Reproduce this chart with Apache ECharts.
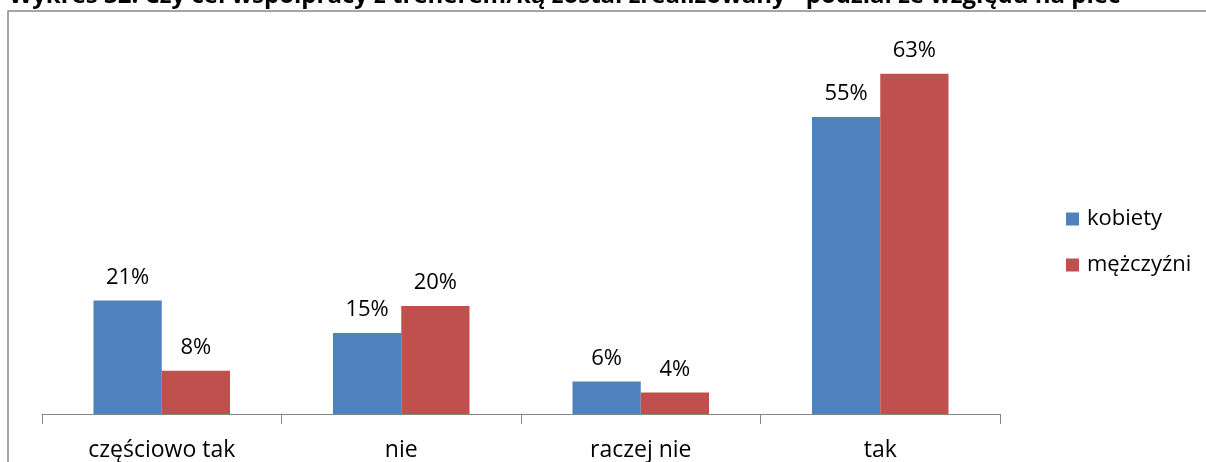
<!DOCTYPE html>
<html>
<head>
<meta charset="utf-8">
<script src="https://cdn.jsdelivr.net/npm/echarts@6/dist/echarts.min.js"></script>
<style>
html,body{margin:0;padding:0;background:#fff;}
#chart{width:1206px;height:462px;}
</style>
</head>
<body>
<div id="chart"></div>
<script>
const categories = ['częściowo tak', 'nie', 'raczej nie', 'tak'];
const kobiety = [21, 15, 6, 55];
const mezczyzni = [8, 20, 4, 63];
const seriesNames = ['kobiety', 'mężczyźni'];
const titleText = 'Wykres 32. Czy cel współpracy z trenerem/ką został zrealizowany - podział ze względu na płeć';

const FONT = '"Open Sans", "Noto Sans", sans-serif';
const chart = echarts.init(document.getElementById('chart'));

const labelOpt = {
  show: true,
  position: 'top',
  distance: 12,
  formatter: p => p.value + '%',
  color: '#000',
  fontSize: 22,
  fontFamily: FONT
};

chart.setOption({
  animation: false,
  title: {
    text: titleText,
    left: 4,
    top: -21,
    textStyle: { fontSize: 24, fontWeight: 'bold', color: '#000', fontFamily: FONT }
  },
  graphic: [{
    type: 'polyline',
    shape: { points: [[8, 470], [8, 11], [1210, 11]] },
    style: { stroke: '#888', lineWidth: 1.5, fill: null },
    silent: true
  }],
  legend: {
    orient: 'vertical',
    left: 1061,
    top: 203,
    itemGap: 24,
    itemWidth: 13,
    itemHeight: 13,
    icon: 'rect',
    textStyle: { fontSize: 22, color: '#000', fontFamily: FONT, padding: [0, 0, 0, 3] },
    data: seriesNames
  },
  grid: { left: 42, right: 206, top: 36, bottom: 47 },
  xAxis: {
    type: 'category',
    data: categories,
    axisLine: { lineStyle: { color: '#868686', width: 1 } },
    axisTick: { show: true, length: 10, lineStyle: { color: '#868686' } },
    axisLabel: { fontSize: 23, color: '#000', fontFamily: FONT, margin: 25 }
  },
  yAxis: {
    type: 'value',
    min: 0,
    max: 70,
    show: false,
    splitLine: { show: false }
  },
  series: [
    {
      name: seriesNames[0],
      type: 'bar',
      data: kobiety,
      barGap: '0%',
      barCategoryGap: '43%',
      itemStyle: { color: '#4f81bd' },
      label: labelOpt
    },
    {
      name: seriesNames[1],
      type: 'bar',
      data: mezczyzni,
      itemStyle: { color: '#c0504d' },
      label: labelOpt
    }
  ]
});
</script>
</body>
</html>
